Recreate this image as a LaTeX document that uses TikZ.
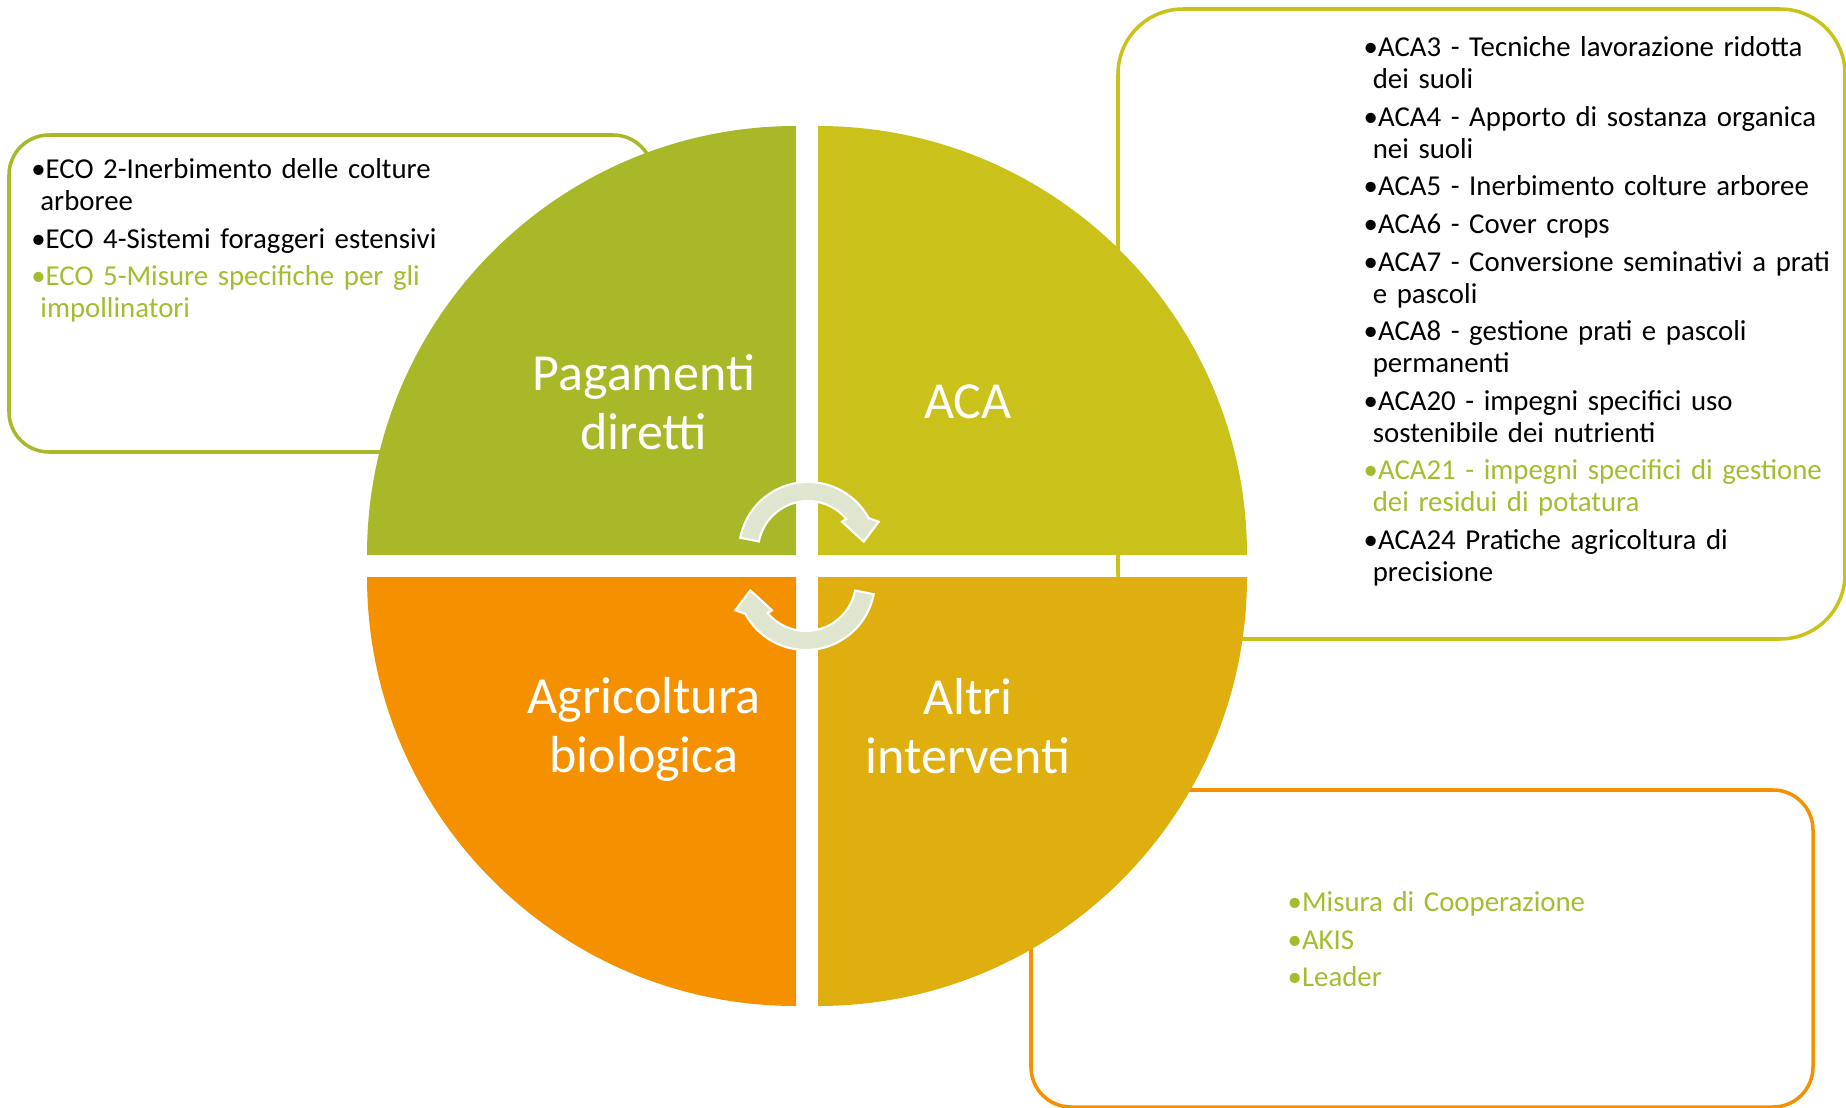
\documentclass[tikz,border=0pt]{standalone}
\usepackage{fontspec}
\setmainfont{Carlito}

\definecolor{PagamentiColor}{RGB}{168,184,40}
\definecolor{AcaColor}{RGB}{202,194,27}
\definecolor{AltriColor}{RGB}{223,174,15}
\definecolor{BioColor}{RGB}{245,145,0}
\definecolor{TextGreen}{RGB}{164,189,48}
\definecolor{CycleColor}{RGB}{224,229,207}

\newcommand{\itm}[2][.]{\hangindent=2.6pt\hangafter=1{\color{#1}•#2}\par}

\begin{document}
\begin{tikzpicture}[
		quadlabel/.style={text=white, align=center, font=\fontsize{14.8}{16.8}\selectfont},
		listtext/.style={anchor=north west, inner sep=0pt, text width=6cm,
			font=\fontsize{8.2}{9.1}\selectfont, execute at begin node={\raggedright\parindent=0pt\parskip=1.6pt}},
		framebox/.style={line width=1pt},
		cyclearrow/.style={fill=CycleColor, draw=white, line width=0.6pt}
	]
	\useasboundingbox (0,0) rectangle (18.46,11.07);

	% Boxes
	\draw[framebox, PagamentiColor, rounded corners=0.4cm] (0.09,6.55) rectangle (6.53,9.72);
	\draw[framebox, AcaColor, rounded corners=0.65cm] (11.18,4.68) rectangle (18.45,10.98);
	\draw[framebox, BioColor, rounded corners=0.4cm] (10.31,0) rectangle (18.13,3.17);

	% Quadrants
	\fill[PagamentiColor] (7.96,5.52) -- (3.67,5.52) arc[start angle=180, end angle=90, radius=4.29] -- cycle;
	\fill[AcaColor] (8.18,5.52) -- (8.18,9.81) arc[start angle=90, end angle=0, radius=4.29] -- cycle;
	\fill[AltriColor] (8.18,5.30) -- (12.47,5.30) arc[start angle=0, end angle=-90, radius=4.29] -- cycle;
	\fill[BioColor] (7.96,5.30) -- (7.96,1.01) arc[start angle=270, end angle=180, radius=4.29] -- cycle;

	% Cycle arrows
	\foreach \ang in {0,180}
		\filldraw[cyclearrow, rotate around={\ang:(8.07,5.41)}, shift={(8.08,5.56)}]
			(169:0.69) arc[start angle=169, end angle=28.5, radius=0.69] -- (22.5:0.765) -- (9.5:0.565)
			-- (40.8:0.449) -- (40:0.50) arc[start angle=40, end angle=169, radius=0.50] -- cycle;

	% Labels
	\node[quadlabel] (pagamenti) at (6.44,7.045) {Pagamenti\\diretti};
	\node[quadlabel] (aca) at (9.68,7.055) {ACA};
	\node[quadlabel] (bio) at (6.44,3.78) {Agricoltura\\biologica};
	\node[quadlabel] (altri) at (9.68,3.81) {Altri\\interventi};

	% Lists
	\node[listtext] (ecolist) at (0.306,9.49) {%
		\itm{ECO 2-Inerbimento delle colture\newline arboree}
		\itm{ECO 4-Sistemi foraggeri estensivi}
		\itm[TextGreen]{ECO 5-Misure specifiche per gli\newline impollinatori}};
	\node[listtext] (acalist) at (13.63,10.71) {%
		\itm{ACA3 - Tecniche lavorazione ridotta\newline dei suoli}
		\itm{ACA4 - Apporto di sostanza organica\newline nei suoli}
		\itm{ACA5 - Inerbimento colture arboree}
		\itm{ACA6 - Cover crops}
		\itm{ACA7 - Conversione seminativi a prati\newline e pascoli}
		\itm{ACA8 - gestione prati e pascoli\newline permanenti}
		\itm{ACA20 - impegni specifici uso\newline sostenibile dei nutrienti}
		\itm[TextGreen]{ACA21 - impegni specifici di gestione\newline dei residui di potatura}
		\itm{ACA24 Pratiche agricoltura di\newline precisione}};
	\node[listtext, text=TextGreen] (altrilist) at (12.87,2.16) {%
		\itm{Misura di Cooperazione}
		\itm{AKIS}
		\itm{Leader}};

\end{tikzpicture}
\end{document}
